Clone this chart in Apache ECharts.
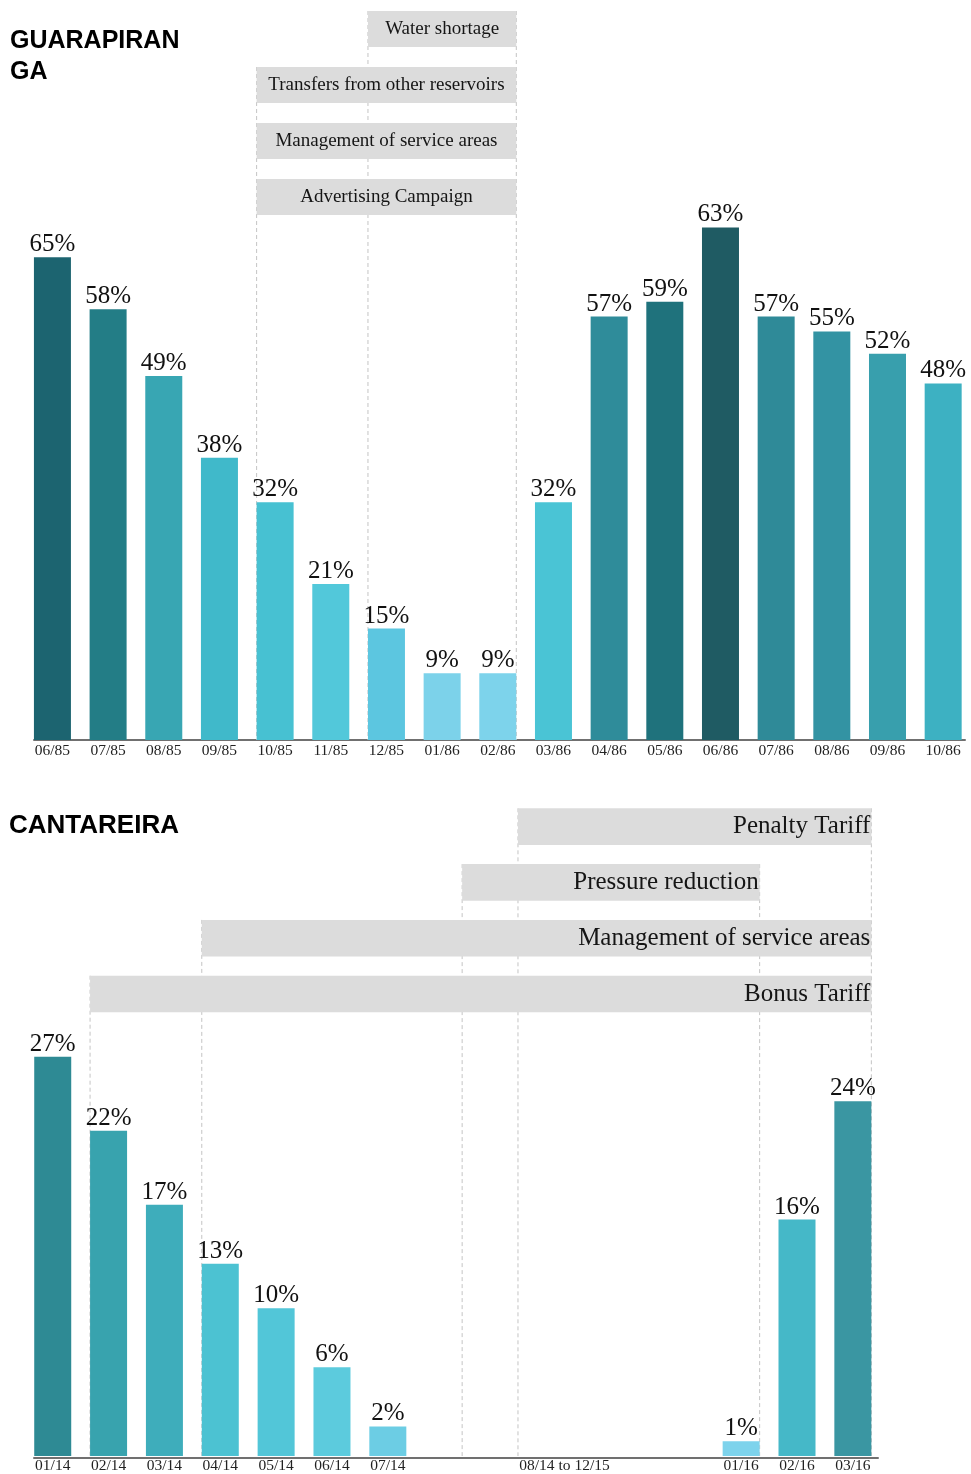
<!DOCTYPE html>
<html>
<head>
<meta charset="utf-8">
<script src="https://cdn.jsdelivr.net/npm/echarts@6/dist/echarts.min.js"></script>
<style>
html,body{margin:0;padding:0;background:#ffffff;}
#c{width:971px;height:1474px;}
</style>
</head>
<body>
<div id="c"></div>
<script>
// ---------- DATA ----------
const guaraTitle = 'GUARAPIRAN\nGA';
const guaraCats = ['06/85','07/85','08/85','09/85','10/85','11/85','12/85','01/86','02/86','03/86','04/86','05/86','06/86','07/86','08/86','09/86','10/86'];
const guaraVals = [65,58,49,38,32,21,15,9,9,32,57,59,69,57,55,52,48];
const guaraLabels = ['65%','58%','49%','38%','32%','21%','15%','9%','9%','32%','57%','59%','63%','57%','55%','52%','48%'];
const guaraActions = [
  {name:'Water shortage', from:'12/85', to:'02/86'},
  {name:'Transfers from other reservoirs', from:'10/85', to:'02/86'},
  {name:'Management of service areas', from:'10/85', to:'02/86'},
  {name:'Advertising Campaign', from:'10/85', to:'02/86'}
];

const cantTitle = 'CANTAREIRA';
const cantCatsA = ['01/14','02/14','03/14','04/14','05/14','06/14','07/14'];
const cantValsA = [27,22,17,13,10,6,2];
const cantGapMonths = ['08/14','09/14','10/14','11/14','12/14','01/15','02/15','03/15','04/15','05/15','06/15','07/15','08/15','09/15','10/15','11/15','12/15'];
const cantGapLabel = '08/14 to 12/15';
const cantCatsB = ['01/16','02/16','03/16'];
const cantValsB = [1,16,24];
const cantActions = [
  {name:'Penalty Tariff', from:'02/15', to:'03/16'},
  {name:'Pressure reduction', from:'11/14', to:'01/16'},
  {name:'Management of service areas', from:'04/14', to:'03/16'},
  {name:'Bonus Tariff', from:'02/14', to:'03/16'}
];

// ---------- STYLES ----------
const guaraColors = ['#1c6470','#237d86','#38a6b3','#40b9ca','#47c1d2','#52c8da','#5cc6e0','#7cd2ea','#7dd3eb','#4ac4d5','#2f8c9a','#1f727c','#1f5b63','#2f8a98','#3393a3','#389fad','#3db1c2'];
const cantColorsA = ['#2e8a94','#38a3ae','#3eadbb','#4cc2d2','#52c6d8','#5ccbdd','#6ccde4'];
const cantColorsB = ['#7dd3ec','#45b8c8','#3a96a2'];

const SERIF = "'Liberation Serif','Times New Roman',Times,serif";
const SANS = "'Liberation Sans',Arial,Helvetica,sans-serif";
const BAR_W = 37;
const SLOT = 55.85;
const AXIS_COLOR = '#707070';
const BOX_FILL = '#dcdcdc';
const DASH_COLOR = '#c4c4c4';
const TEXT_COLOR = '#151515';

// layout
const TOP_GRID = {left: 24.6, top: 220, height: 520};
const TOP_BASE = {left: 34, width: 931};
const BOT_TOP = 1012.5, BOT_H = 445.5;
const BOT_A_LEFT = 24.8;
const BOT_B_CENTER = 797;
const BOT_BASE = {left: 34, width: 844};
const botGapLeft = BOT_A_LEFT + (cantCatsA.length - 0.5) * SLOT + BAR_W / 2;
const botBLeft = BOT_B_CENTER - 1.5 * SLOT;
const botGapRight = botBLeft + 0.5 * SLOT - BAR_W / 2;
const GUARA_ROWS = {top: 11, pitch: 56, h: 36, font: 19, align: 'center'};
const CANT_ROWS = {top: 808.3, pitch: 55.8, h: 36.6, font: 25, align: 'right'};

function catAxis(gridIndex, data, margin) {
  return {
    type: 'category', gridIndex: gridIndex, data: data,
    axisLine: {show: false}, axisTick: {show: false}, splitLine: {show: false},
    axisLabel: {interval: 0, margin: margin, fontFamily: SERIF, fontSize: 15.5, color: '#222'}
  };
}
function baseAxis(gridIndex) {
  return {
    type: 'value', gridIndex: gridIndex, min: 0, max: 1,
    axisLine: {show: true, onZero: false, lineStyle: {color: AXIS_COLOR, width: 2}},
    axisTick: {show: false}, axisLabel: {show: false}, splitLine: {show: false}
  };
}
function hiddenY(gridIndex, max) {
  return {type: 'value', gridIndex: gridIndex, min: 0, max: max, show: false, splitLine: {show: false}};
}
function barSeries(xi, vals, colors, labels) {
  return {
    type: 'bar', xAxisIndex: xi, yAxisIndex: xi, barWidth: BAR_W, z: 3,
    data: vals.map((v, i) => ({value: v, itemStyle: {color: colors[i]}})),
    label: {
      show: true, position: 'top', distance: 0,
      formatter: p => labels[p.dataIndex],
      fontFamily: SERIF, fontSize: 25, color: '#111'
    }
  };
}

const chart = echarts.init(document.getElementById('c'), null, {renderer: 'canvas', width: 971, height: 1474});

const gapAxis = catAxis(3, cantGapMonths, 2);
gapAxis.axisLabel.formatter = (v, i) => (i === Math.floor(cantGapMonths.length / 2) ? cantGapLabel : '');

const option = {
  animation: false,
  backgroundColor: '#ffffff',
  title: [
    {text: guaraTitle, left: 5, top: 21, textStyle: {fontFamily: SANS, fontWeight: 'bold', fontSize: 25, lineHeight: 31, color: '#000'}},
    {text: cantTitle, left: 4, top: 808, textStyle: {fontFamily: SANS, fontWeight: 'bold', fontSize: 26, lineHeight: 26, color: '#000'}}
  ],
  grid: [
    {left: TOP_GRID.left, top: TOP_GRID.top, width: guaraCats.length * SLOT, height: TOP_GRID.height},
    {left: TOP_BASE.left, top: TOP_GRID.top, width: TOP_BASE.width, height: TOP_GRID.height},
    {left: BOT_A_LEFT, top: BOT_TOP, width: cantCatsA.length * SLOT, height: BOT_H},
    {left: botGapLeft, top: BOT_TOP, width: botGapRight - botGapLeft, height: BOT_H},
    {left: botBLeft, top: BOT_TOP, width: cantCatsB.length * SLOT, height: BOT_H},
    {left: BOT_BASE.left, top: BOT_TOP, width: BOT_BASE.width, height: BOT_H}
  ],
  xAxis: [
    catAxis(0, guaraCats, 3),
    baseAxis(1),
    catAxis(2, cantCatsA, 2),
    gapAxis,
    catAxis(4, cantCatsB, 2),
    baseAxis(5)
  ],
  yAxis: [
    hiddenY(0, 70), hiddenY(1, 1), hiddenY(2, 30), hiddenY(3, 30), hiddenY(4, 30), hiddenY(5, 1)
  ],
  series: [
    barSeries(0, guaraVals, guaraColors, guaraLabels),
    barSeries(2, cantValsA, cantColorsA, cantValsA.map(v => v + '%')),
    barSeries(4, cantValsB, cantColorsB, cantValsB.map(v => v + '%'))
  ]
};
chart.setOption(option);

// ---------- annotation boxes derived from the axes ----------
function axisEdge(axes, month, side) {
  for (const a of axes) {
    const i = a.cats.indexOf(month);
    if (i < 0) continue;
    const c = chart.convertToPixel({xAxisIndex: a.idx}, i);
    let half = a.half;
    if (half == null) {
      half = (chart.convertToPixel({xAxisIndex: a.idx}, 1) - chart.convertToPixel({xAxisIndex: a.idx}, 0)) / 2;
    }
    return c + side * half;
  }
  return null;
}

function buildAnnotations(actions, axes, rows, baseY) {
  const els = [];
  const lines = {};
  actions.forEach((act, r) => {
    const x1 = axisEdge(axes, act.from, -1);
    const x2 = axisEdge(axes, act.to, 1);
    const y = rows.top + r * rows.pitch;
    els.push({type: 'rect', z: 10, shape: {x: x1, y: y, width: x2 - x1, height: rows.h}, style: {fill: BOX_FILL}});
    const tx = rows.align === 'center' ? (x1 + x2) / 2 : x2 - 1;
    els.push({type: 'text', z: 11, x: tx, y: y + rows.h / 2,
      style: {text: act.name, fontFamily: SERIF, fontSize: rows.font, fill: TEXT_COLOR,
        align: rows.align, textAlign: rows.align, verticalAlign: 'middle', textVerticalAlign: 'middle'}});
    [x1, x2].forEach(x => {
      const k = Math.round(x);
      if (!(k in lines) || lines[k].y > y) lines[k] = {x: x, y: y};
    });
  });
  Object.keys(lines).forEach(k => {
    const l = lines[k];
    els.push({type: 'line', z: 1, shape: {x1: l.x, y1: l.y, x2: l.x, y2: baseY},
      style: {stroke: DASH_COLOR, lineWidth: 1, lineDash: [4, 3]}});
  });
  return els;
}

const guaraAxes = [{idx: 0, cats: guaraCats, half: BAR_W / 2}];
const cantAxes = [
  {idx: 2, cats: cantCatsA, half: BAR_W / 2},
  {idx: 3, cats: cantGapMonths, half: null},
  {idx: 4, cats: cantCatsB, half: BAR_W / 2}
];
const guaraBase = chart.convertToPixel({yAxisIndex: 0}, 0);
const cantBase = chart.convertToPixel({yAxisIndex: 2}, 0);

chart.setOption({
  graphic: buildAnnotations(guaraActions, guaraAxes, GUARA_ROWS, guaraBase)
    .concat(buildAnnotations(cantActions, cantAxes, CANT_ROWS, cantBase))
});
</script>
</body>
</html>
